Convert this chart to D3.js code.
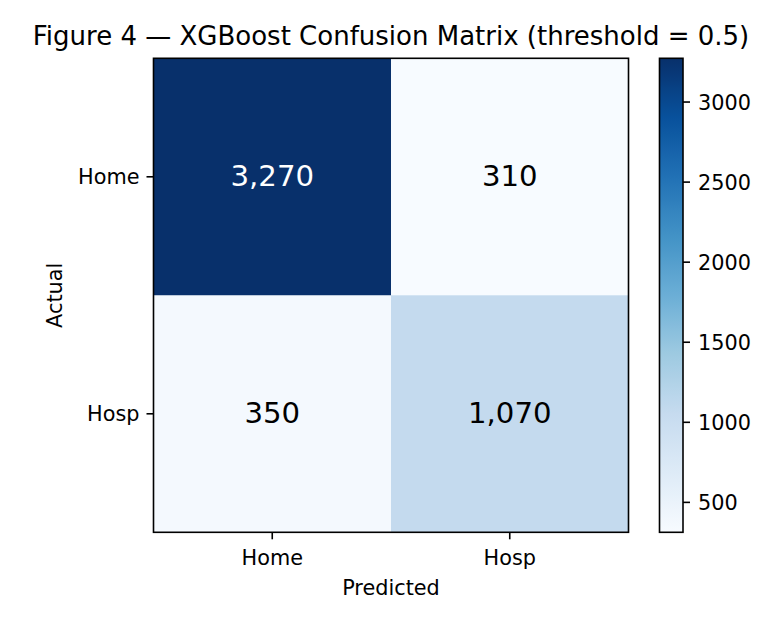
<!DOCTYPE html>
<html>
<head>
<meta charset="utf-8">
<script src="https://cdn.jsdelivr.net/npm/d3@7"></script>
<style>
  html, body { margin: 0; padding: 0; background: #fff; }
  svg text { font-family: "DejaVu Sans", sans-serif; fill: #000; }
</style>
</head>
<body>
<svg id="chart" width="780" height="624"></svg>
<script>
// ---- data ----
const actualLabels = ["Home", "Hosp"];
const predictedLabels = ["Home", "Hosp"];
const matrixValues = [
  [3270, 310],
  [350, 1070]
];
const colorbarTicks = [500, 1000, 1500, 2000, 2500, 3000];
const titleText = "Figure 4 \u2014 XGBoost Confusion Matrix (threshold = 0.5)";

// ---- matplotlib "Blues" ----
const bluesStops = ["#f7fbff","#deebf7","#c6dbef","#9ecae1","#6baed6","#4292c6","#2171b5","#08519c","#08306b"];
const blues = d3.scaleLinear()
  .domain(bluesStops.map((_, i) => i / (bluesStops.length - 1)))
  .range(bluesStops)
  .interpolate(d3.interpolateRgb)
  .clamp(true);

const flat = matrixValues.flat();
const vmin = d3.min(flat), vmax = d3.max(flat);
const norm = d3.scaleLinear().domain([vmin, vmax]).range([0, 1]);
const colorOf = v => blues(norm(v));

const svg = d3.select("#chart");
svg.append("rect").attr("width", 780).attr("height", 624).attr("fill", "#fff");

const hm = { x0: 153.5, x1: 628.5, y0: 58.3, y1: 532.3 };
const xScale = d3.scaleBand().domain(predictedLabels).range([hm.x0, hm.x1]).padding(0);
const yScale = d3.scaleBand().domain(actualLabels).range([hm.y0, hm.y1]).padding(0);

// cells
const cells = [];
actualLabels.forEach((a, i) => predictedLabels.forEach((p, j) => cells.push({ a, p, v: matrixValues[i][j] })));

const g = svg.append("g");
g.selectAll("rect.cell").data(cells).enter().append("rect")
  .attr("class", "cell")
  .attr("x", d => xScale(d.p))
  .attr("y", d => yScale(d.a))
  .attr("width", xScale.bandwidth() + 0.5)
  .attr("height", yScale.bandwidth() + 0.5)
  .attr("fill", d => colorOf(d.v));

const fmt = d3.format(",");
g.selectAll("text.val").data(cells).enter().append("text")
  .attr("class", "val")
  .attr("x", d => xScale(d.p) + xScale.bandwidth() / 2)
  .attr("y", d => yScale(d.a) + yScale.bandwidth() / 2)
  .attr("dy", "0.31em")
  .attr("text-anchor", "middle")
  .style("font-size", "29.2px")
  .style("fill", d => d.v > vmax / 2 ? "#fff" : "#000")
  .text(d => fmt(d.v));

// frame
g.append("rect")
  .attr("x", hm.x0).attr("y", hm.y0)
  .attr("width", hm.x1 - hm.x0).attr("height", hm.y1 - hm.y0)
  .attr("fill", "none").attr("stroke", "#000").attr("stroke-width", 1.6);

// axes
const xAxis = svg.append("g").attr("transform", `translate(0,${hm.y1})`)
  .call(d3.axisBottom(xScale).tickSize(7).tickPadding(7).tickSizeOuter(0));
xAxis.select(".domain").remove();
xAxis.selectAll("line").attr("stroke", "#000").attr("stroke-width", 1.6);
xAxis.selectAll("text").style("font-size", "20.8px").attr("y", 32.7).attr("dy", 0).attr("fill", "#000");

const yAxis = svg.append("g").attr("transform", `translate(${hm.x0},0)`)
  .call(d3.axisLeft(yScale).tickSize(7).tickPadding(7).tickSizeOuter(0));
yAxis.select(".domain").remove();
yAxis.selectAll("line").attr("stroke", "#000").attr("stroke-width", 1.6);
yAxis.selectAll("text").style("font-size", "20.8px").attr("dy", "0.36em").attr("fill", "#000");

// axis labels
svg.append("text")
  .attr("x", (hm.x0 + hm.x1) / 2).attr("y", 595)
  .attr("text-anchor", "middle").style("font-size", "20.8px").text("Predicted");
svg.append("text")
  .attr("transform", `translate(62,${(hm.y0 + hm.y1) / 2}) rotate(-90)`)
  .attr("text-anchor", "middle").style("font-size", "20.8px").text("Actual");

// title
svg.append("text")
  .attr("x", (hm.x0 + hm.x1) / 2).attr("y", 45)
  .attr("text-anchor", "middle").style("font-size", "26px").text(titleText);

// colorbar
const cb = { x0: 659.5, x1: 683, y0: hm.y0, y1: hm.y1 };
const cScale = d3.scaleLinear().domain([vmin, vmax]).range([cb.y1, cb.y0]);
const defs = svg.append("defs");
const grad = defs.append("linearGradient").attr("id", "cbgrad")
  .attr("x1", 0).attr("y1", 1).attr("x2", 0).attr("y2", 0);
d3.range(0, 1.0001, 1 / 64).forEach(t => {
  grad.append("stop").attr("offset", t).attr("stop-color", blues(t));
});
svg.append("rect")
  .attr("x", cb.x0).attr("y", cb.y0)
  .attr("width", cb.x1 - cb.x0).attr("height", cb.y1 - cb.y0)
  .attr("fill", "url(#cbgrad)")
  .attr("stroke", "#000").attr("stroke-width", 1.6);

const cAxis = svg.append("g").attr("transform", `translate(${cb.x1},0)`)
  .call(d3.axisRight(cScale).tickValues(colorbarTicks).tickFormat(d3.format("d")).tickSize(7).tickPadding(8).tickSizeOuter(0));
cAxis.select(".domain").remove();
cAxis.selectAll("line").attr("stroke", "#000").attr("stroke-width", 1.6);
cAxis.selectAll("text").style("font-size", "20.8px").attr("dy", "0.36em").attr("fill", "#000");
</script>
</body>
</html>
